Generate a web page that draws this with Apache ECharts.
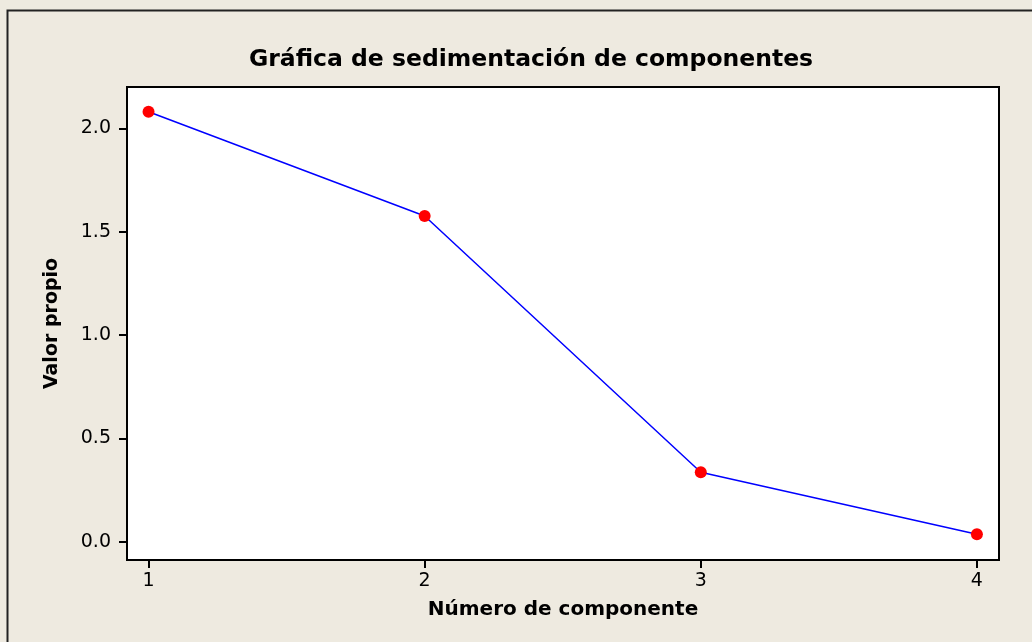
<!DOCTYPE html>
<html><head><meta charset="utf-8">
<script src="https://cdn.jsdelivr.net/npm/echarts@6/dist/echarts.min.js"></script>
<style>html,body{margin:0;padding:0;background:#EEEAE0;}#c{width:1032px;height:642px;}</style>
</head><body><div id="c"></div>
<script>
const components = [1, 2, 3, 4];
const eigenvalues = [2.080, 1.576, 0.336, 0.036];
const xTicks = [1, 2, 3, 4];
const yTicks = [0.0, 0.5, 1.0, 1.5, 2.0];
const titleText = 'Gráfica de sedimentación de componentes';
const xName = 'Número de componente';
const yName = 'Valor propio';

const chart = echarts.init(document.getElementById('c'));
const font = 'DejaVu Sans';
chart.setOption({
  backgroundColor: '#EEEAE0',
  animation: false,
  title: {text: titleText, left: 526, textAlign: 'center', top: 43,
    textStyle: {fontFamily: font, fontSize: 23.5, fontWeight: 'bold', color: '#000'}},
  graphic: [{type: 'rect', shape: {x: 7.5, y: 10.5, width: 1100, height: 700},
    style: {fill: 'none', stroke: '#222', lineWidth: 2}, silent: true}],
  grid: {left: 127, right: 33, top: 87, bottom: 82, show: true, backgroundColor: '#fff',
    borderColor: '#000', borderWidth: 2},
  xAxis: {type: 'value', min: 0.922, max: 4.08,
    name: xName, nameLocation: 'middle', nameGap: 40,
    nameTextStyle: {fontFamily: font, fontSize: 20, fontWeight: 'bold', color: '#000'},
    axisLine: {show: true, onZero: false, lineStyle: {color: '#000', width: 2}},
    axisTick: {show: true, customValues: xTicks, length: 8, lineStyle: {color: '#000', width: 2}},
    axisLabel: {customValues: xTicks, fontFamily: font, fontSize: 19, color: '#000', margin: 12,
      formatter: v => String(Math.round(v))},
    splitLine: {show: false}},
  yAxis: {type: 'value', min: -0.0885, max: 2.2,
    name: yName, nameLocation: 'middle', nameGap: 65, nameRotate: 90,
    nameTextStyle: {fontFamily: font, fontSize: 19, fontWeight: 'bold', color: '#000'},
    axisLine: {show: true, onZero: false, lineStyle: {color: '#000', width: 2}},
    axisTick: {show: true, customValues: yTicks, length: 8, lineStyle: {color: '#000', width: 2}},
    axisLabel: {customValues: yTicks, fontFamily: font, fontSize: 19, color: '#000', margin: 16,
      formatter: v => v.toFixed(1)},
    splitLine: {show: false}},
  series: [{type: 'line', data: components.map((c, i) => [c, eigenvalues[i]]),
    lineStyle: {color: '#0000FF', width: 1.5},
    symbol: 'circle', symbolSize: 12,
    itemStyle: {color: '#FF0000', borderWidth: 0}}]
});
</script></body></html>
